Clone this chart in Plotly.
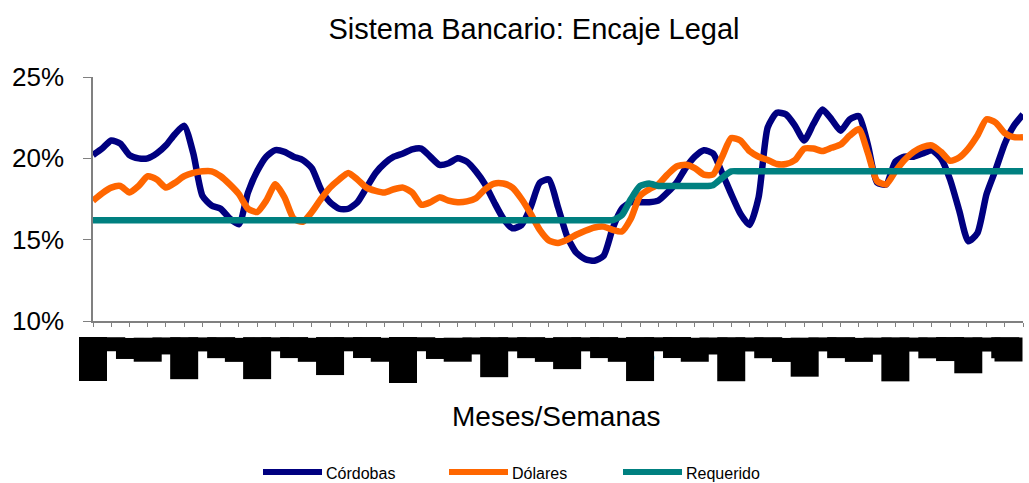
import plotly.graph_objects as go

# ---------------- data ----------------
# x positions: half-week steps, 0 .. 51 (52 weekly ticks)
x_vals = [i / 2 for i in range(103)]

cordobas = [20.2, 20.6, 21.1, 20.9, 20.2, 20.0, 20.0, 20.3, 20.8, 21.5,
            22.0, 20.3, 17.7, 17.1, 16.9, 16.3, 15.95, 17.9, 19.2, 20.1,
            20.5, 20.4, 20.1, 19.9, 19.4, 18.1, 17.3, 16.9, 16.9, 17.3,
            18.2, 19.1, 19.7, 20.1, 20.3, 20.55, 20.6, 20.1, 19.6, 19.7,
            20.0, 19.8, 19.2, 18.4, 17.3, 16.3, 15.7, 15.9, 17.0, 18.5,
            18.7, 17.0, 15.2, 14.2, 13.8, 13.7, 14.0, 15.7, 16.9, 17.3,
            17.3, 17.3, 17.4, 17.9, 18.5, 19.4, 20.1, 20.5, 20.3, 19.1,
            17.8, 16.6, 15.9, 17.6, 21.9, 22.8, 22.7, 22.0, 21.1, 22.1,
            23.0, 22.4, 21.7, 22.4, 22.6, 20.8, 18.5, 18.4, 19.8, 20.1,
            20.1, 20.3, 20.5, 20.0, 18.7, 16.8, 14.9, 15.4, 17.8, 19.3,
            20.9, 22.0, 22.7]

dolares = [17.4, 17.85, 18.2, 18.3, 17.9, 18.3, 18.9, 18.7, 18.2, 18.5,
           18.9, 19.1, 19.2, 19.2, 18.9, 18.4, 17.8, 16.9, 16.7, 17.4,
           18.4, 17.6, 16.3, 16.1, 16.7, 17.5, 18.2, 18.7, 19.1, 18.7,
           18.2, 18.0, 17.9, 18.1, 18.2, 17.9, 17.15, 17.3, 17.6, 17.4,
           17.3, 17.35, 17.55, 18.1, 18.45, 18.45, 18.2, 17.5, 16.6, 15.6,
           14.95, 14.8, 15.0, 15.3, 15.55, 15.75, 15.8, 15.6, 15.5, 16.3,
           17.7, 18.1, 18.4, 19.0, 19.5, 19.6, 19.4, 19.0, 19.0, 20.1,
           21.25, 21.1, 20.45, 20.1, 19.9, 19.65, 19.65, 19.9, 20.6, 20.6,
           20.45, 20.65, 20.85, 21.4, 21.8, 20.3, 18.6, 18.4, 19.2, 19.9,
           20.4, 20.7, 20.8, 20.4, 19.85, 20.05, 20.6, 21.4, 22.4, 22.2,
           21.55, 21.3, 21.3]

requerido = [16.2] * 58 + [16.5, 17.5, 18.3, 18.45] + [18.3] * 6 + [18.35, 18.8] + [19.2] * 33

series_names = ["Córdobas", "Dólares", "Requerido"]
series_colors = ["#000080", "#FF6600", "#008080"]

month_names = ["Ene", "Feb", "Mar", "Abr", "May", "Jun",
               "Jul", "Ago", "Sep", "Oct", "Nov", "Dic"]
weeks_per_month = [5, 4, 4, 4, 5, 4, 4, 5, 4, 5, 4, 4]
week_names = ["I", "II", "III", "IV", "V"]

y_ticks = [10, 15, 20, 25]
y_ticktext = ["10%", "15%", "20%", "25%"]

# ---------------- layout helpers ----------------
W, H = 1029, 483
L, R, T, B = 93, 1023, 77, 321
PW, PH = R - L, B - T


def xp(px):
    return (px - L) / PW


def yp(py):
    return (B - py) / PH


FONT = "Liberation Sans, Arial, sans-serif"

fig = go.Figure()
for name, ys, col in zip(series_names, [cordobas, dolares, requerido], series_colors):
    fig.add_trace(go.Scatter(x=x_vals, y=ys, mode="lines", name=name,
                             line=dict(color=col, width=6.5, shape="spline", smoothing=0.6),
                             showlegend=False))

# week / month category labels (rendered as opaque black label boxes like the source)
labels = []
for m, n in zip(month_names, weeks_per_month):
    for w in range(n):
        labels.append(m if w == 0 else week_names[w])

annotations = []
last = len(labels) - 1
for k, lab in enumerate(labels):
    annotations.append(dict(x=k, xref="x", y=yp(337), yref="paper", text=lab,
                            showarrow=False, textangle=-90,
                            xanchor="right" if k == last else "center", yanchor="top",
                            font=dict(family=FONT, size=24, color="black"),
                            bgcolor="black", borderpad=0))

# custom legend
legend_pos = [(263, 322, 324), (449, 508, 510), (623, 682, 684)]
shapes = []
for (x0, x1, xt), name, col in zip(legend_pos, series_names, series_colors):
    shapes.append(dict(type="line", xref="paper", yref="paper", x0=xp(x0), x1=xp(x1),
                       y0=yp(472), y1=yp(472), line=dict(color=col, width=6)))
    annotations.append(dict(x=xp(xt), y=yp(473), xref="paper", yref="paper", text=name,
                            showarrow=False, xanchor="left", yanchor="middle",
                            font=dict(family=FONT, size=16, color="black")))

# x-axis title
annotations.append(dict(x=xp(556), y=yp(416), xref="paper", yref="paper", text="Meses/Semanas",
                        showarrow=False, xanchor="center", yanchor="middle",
                        font=dict(family=FONT, size=28, color="black")))

fig.update_layout(
    width=W, height=H,
    margin=dict(l=L, r=W - R, t=T, b=H - B, pad=0),
    paper_bgcolor="white", plot_bgcolor="white",
    title=dict(text="Sistema Bancario: Encaje Legal", x=534 / W, xref="container",
               xanchor="center", y=1 - 29 / H, yref="container", yanchor="middle",
               font=dict(family=FONT, size=29, color="black")),
    xaxis=dict(range=[0, 51], tickmode="array", tickvals=list(range(52)), showticklabels=False,
               ticks="outside", ticklen=4, tickcolor="#808080", tickwidth=1,
               showline=True, linecolor="#808080", linewidth=1.5, showgrid=False, zeroline=False),
    yaxis=dict(range=[10, 25], tickmode="array", tickvals=y_ticks, ticktext=y_ticktext,
               ticks="outside", ticklen=8, tickcolor="#808080", tickwidth=1,
               showline=True, linecolor="#808080", linewidth=1.5, showgrid=False, zeroline=False,
               tickfont=dict(family=FONT, size=26, color="black"), ticklabelstandoff=14),
    annotations=annotations,
    shapes=shapes,
)

fig.write_html("out.html")
